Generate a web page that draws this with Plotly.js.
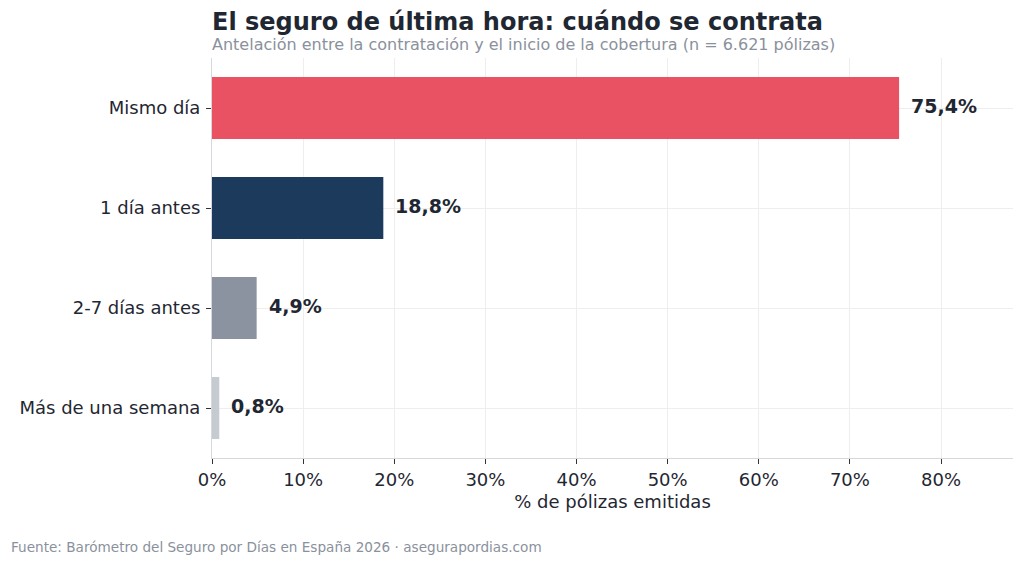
<!DOCTYPE html>
<html>
<head>
<meta charset="utf-8">
<script src="https://cdn.plot.ly/plotly-3.0.1.min.js"></script>
<style>
  html, body { margin: 0; padding: 0; background: #ffffff; }
  #chart { width: 1024px; height: 565px; }
</style>
</head>
<body>
<div id="chart"></div>
<script>
(function() {
    'use strict';

    // Data
    var categories = ['Mismo día', '1 día antes', '2-7 días antes', 'Más de una semana'];
    var shares = [75.4, 18.8, 4.9, 0.8];
    var valueLabels = ['75,4%', '18,8%', '4,9%', '0,8%'];
    var barColors = ['#e85262', '#1b3a5c', '#8c93a0', '#c6cad1'];
    var xTickVals = [0, 10, 20, 30, 40, 50, 60, 70, 80];
    var xTickText = ['0%', '10%', '20%', '30%', '40%', '50%', '60%', '70%', '80%'];

    var font = 'DejaVu Sans, Verdana, sans-serif';
    var dark = '#1f2732';

    var trace = {
        type: 'bar',
        orientation: 'h',
        y: categories,
        x: shares,
        width: 0.62,
        marker: { color: barColors, line: { width: 0 } },
        hoverinfo: 'skip'
    };

    // value labels just past the end of each bar
    var annotations = shares.map(function(v, i) {
        return {
            x: v,
            y: categories[i],
            xref: 'x',
            yref: 'y',
            text: '<b>' + valueLabels[i] + '</b>',
            showarrow: false,
            xanchor: 'left',
            yanchor: 'middle',
            xshift: 10,
            yshift: 2,
            font: { family: font, size: 19, color: dark }
        };
    });

    annotations.push({
        xref: 'paper', yref: 'paper', x: 0, y: 1,
        xanchor: 'left', yanchor: 'bottom', xshift: -2, yshift: 20,
        text: '<b>El seguro de última hora: cuándo se contrata</b>',
        showarrow: false,
        font: { family: font, size: 24, color: dark }
    });
    annotations.push({
        xref: 'paper', yref: 'paper', x: 0, y: 1,
        xanchor: 'left', yanchor: 'bottom', xshift: -2, yshift: 2,
        text: 'Antelación entre la contratación y el inicio de la cobertura (n = 6.621 pólizas)',
        showarrow: false,
        font: { family: font, size: 16, color: '#8a919c' }
    });
    annotations.push({
        xref: 'paper', yref: 'paper', x: -0.2525, y: 0,
        xanchor: 'left', yanchor: 'middle', xshift: -1, yshift: -89,
        text: 'Fuente: Barómetro del Seguro por Días en España 2026 · asegurapordias.com',
        showarrow: false,
        font: { family: font, size: 13.6, color: '#8a919c' }
    });

    var layout = {
        width: 1024,
        height: 565,
        margin: { t: 58, r: 11, b: 107, l: 212 },
        paper_bgcolor: '#ffffff',
        plot_bgcolor: '#ffffff',
        font: { family: font, color: dark },
        showlegend: false,
        xaxis: {
            range: [0, 87.9],
            tickvals: xTickVals,
            ticktext: xTickText,
            tickfont: { family: font, size: 18, color: dark },
            ticks: 'outside',
            ticklen: 5,
            tickcolor: '#333333',
            showgrid: true,
            gridcolor: '#eeeeee',
            gridwidth: 1,
            zeroline: false,
            showline: true,
            linecolor: '#d5d8dd',
            linewidth: 1,
            title: { text: '% de pólizas emitidas', font: { family: font, size: 18, color: dark }, standoff: 6 },
            fixedrange: true
        },
        yaxis: {
            autorange: false,
            range: [3.5, -0.5],
            type: 'category',
            tickfont: { family: font, size: 18, color: dark },
            ticks: 'outside',
            ticklen: 5,
            tickcolor: '#333333',
            ticklabelstandoff: 2,
            showgrid: true,
            gridcolor: '#eeeeee',
            gridwidth: 1,
            zeroline: false,
            showline: true,
            linecolor: '#d5d8dd',
            linewidth: 1,
            fixedrange: true
        },
        annotations: annotations
    };

    Plotly.newPlot('chart', [trace], layout, { displayModeBar: false, staticPlot: true });
})();
</script>
</body>
</html>
